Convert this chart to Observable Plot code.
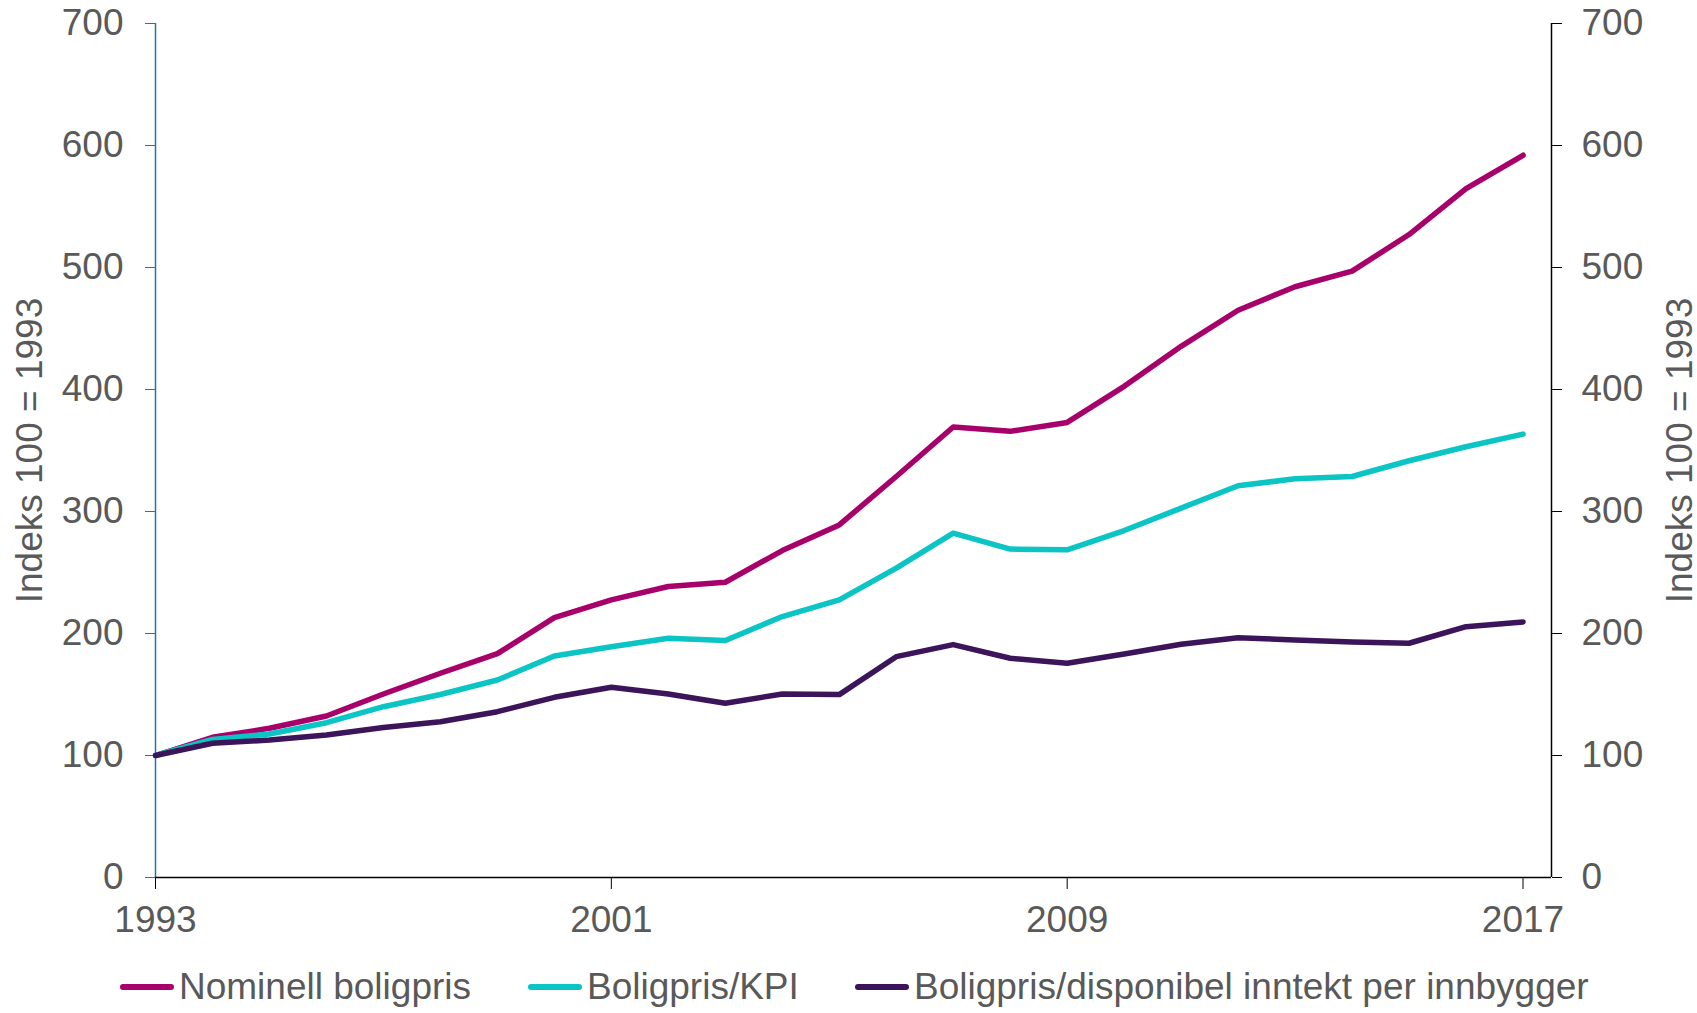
<!DOCTYPE html>
<html>
<head>
<meta charset="utf-8">
<script src="https://cdn.jsdelivr.net/npm/d3@7"></script>
<script src="https://cdn.jsdelivr.net/npm/@observablehq/plot@0.6"></script>
<style>
  html, body { margin: 0; padding: 0; background: #fff; }
  #chart { width: 1697px; }
  .legend { position: relative; width: 1697px; height: 63px; font-family: "Liberation Sans", Arial, sans-serif; font-size: 37px; color: #595959; }
  .legend .item { position: absolute; top: 0; height: 74px; display: flex; align-items: center; white-space: nowrap; }
  .legend .sw { display: inline-block; width: 54px; height: 6px; border-radius: 3px; margin-right: 5px; }
</style>
</head>
<body>
<div id="chart"></div>
<div class="legend" id="legend"></div>
<script>
const years = [1993, 1994, 1995, 1996, 1997, 1998, 1999, 2000, 2001, 2002, 2003, 2004, 2005, 2006, 2007, 2008, 2009, 2010, 2011, 2012, 2013, 2014, 2015, 2016, 2017];
const nominell = [100, 114.9, 122.3, 132.4, 150.4, 167.4, 183.5, 213, 227.6, 238.5, 242, 268, 289, 328.7, 369.3, 365.7, 373, 402.6, 435.4, 465, 484.2, 497, 527, 564.6, 592];
const kpi = [100, 113.2, 117.6, 126.9, 140, 150, 161.9, 181.5, 189.2, 196.1, 194.2, 213.9, 227.6, 253.6, 282.3, 269.2, 268.6, 284.4, 302.8, 321.1, 326.8, 328.7, 341.6, 353.1, 363.4];
const inntekt = [100, 110, 112.7, 116.8, 123, 127.7, 135.9, 147.7, 155.9, 150.4, 142.8, 150.4, 149.9, 181, 190.9, 179.7, 175.6, 183.2, 191.2, 196.6, 194.7, 193.1, 192, 205.6, 209.5];
const seriesNames = ["Nominell boligpris", "Boligpris/KPI", "Boligpris/disponibel inntekt per innbygger"];
const seriesColors = ["#a8006b", "#0bc4c4", "#3b145a"];
const xTicks = [1993, 2001, 2009, 2017];
const yTicks = [0, 100, 200, 300, 400, 500, 600, 700];
const xDomain = [1993, 2017.5];
const yDomain = [0, 700];
const axisTitle = "Indeks 100 = 1993";

const seriesValues = [nominell, kpi, inntekt];
const rows = [];
seriesNames.forEach((name, i) => {
  years.forEach((yr, j) => rows.push({series: name, year: yr, value: seriesValues[i][j]}));
});

const font = "'Liberation Sans', Arial, sans-serif";
const chart = Plot.plot({
  width: 1697,
  height: 950,
  marginTop: 23,
  marginBottom: 73,
  marginLeft: 155,
  marginRight: 146,
  style: {fontFamily: font, fontSize: "37px", color: "#595959", background: "#fff", overflow: "visible"},
  x: {domain: xDomain},
  y: {domain: yDomain},
  color: {domain: seriesNames, range: seriesColors},
  marks: [
    Plot.ruleX([xDomain[0]], {stroke: "#1f78a8", strokeWidth: 1.5}),
    Plot.ruleX([xDomain[1]], {stroke: "#000", strokeWidth: 1.5}),
    Plot.ruleY([0], {stroke: "#000", strokeWidth: 1.5}),
    Plot.axisX({ticks: xTicks, tickFormat: d => String(d), tickSize: 12, tickPadding: 16, stroke: "#000", fill: "#595959", label: null}),
    Plot.axisY({anchor: "left", ticks: yTicks, tickSize: 10, tickPadding: 22, stroke: "#1f78a8", fill: "#595959",
      label: axisTitle, labelAnchor: "center", labelArrow: "none", labelOffset: 140}),
    Plot.axisY({anchor: "right", ticks: yTicks, tickSize: 10, tickPadding: 20, stroke: "#000", fill: "#595959",
      label: axisTitle, labelAnchor: "center", labelArrow: "none", labelOffset: 140}),
    Plot.line(rows, {x: "year", y: "value", z: "series", stroke: "series", strokeWidth: 5.5, strokeLinecap: "round", strokeLinejoin: "round"})
  ]
});
document.getElementById("chart").appendChild(chart);

const legendLefts = [120, 528, 855];
const legend = document.getElementById("legend");
seriesNames.forEach((name, i) => {
  const item = document.createElement("div");
  item.className = "item";
  item.style.left = legendLefts[i] + "px";
  const sw = document.createElement("span");
  sw.className = "sw";
  sw.style.background = seriesColors[i];
  const tx = document.createElement("span");
  tx.textContent = name;
  item.appendChild(sw);
  item.appendChild(tx);
  legend.appendChild(item);
});
</script>
</body>
</html>
